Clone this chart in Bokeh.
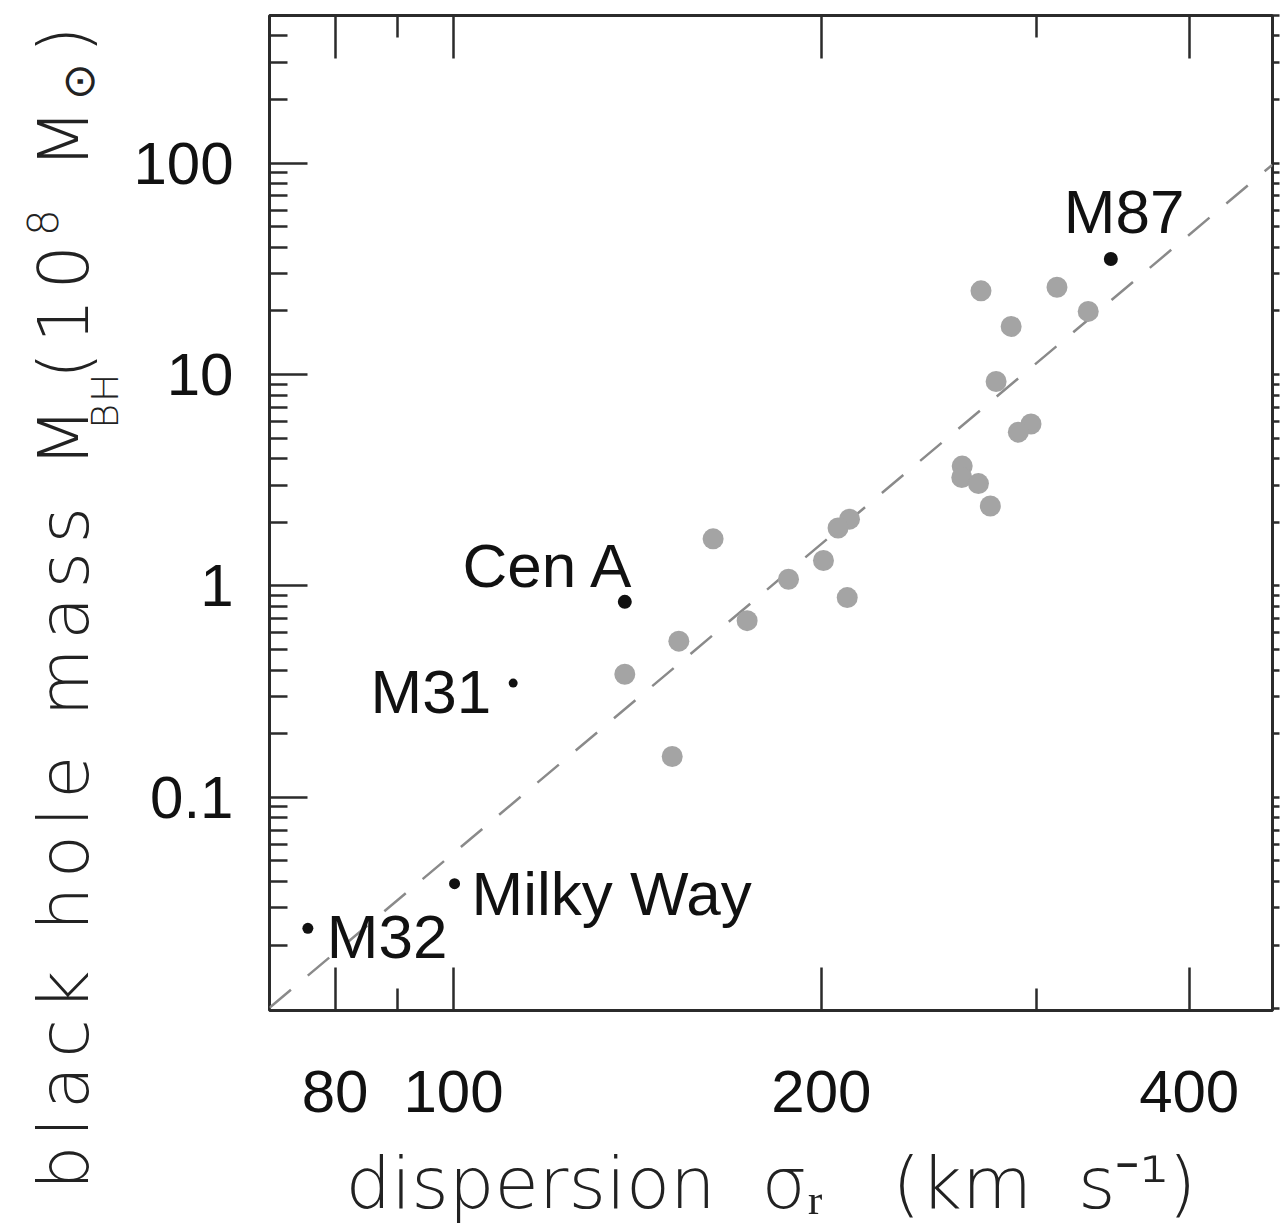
import numpy as np
from bokeh.plotting import figure
from bokeh.layouts import row
from bokeh.models import LogAxis, FixedTicker, Label, Range1d, ColumnDataSource, CustomJSTickFormatter, Div
from bokeh.embed import file_html
from bokeh.resources import INLINE

# ---------------- data ----------------
sample_sigma = [270.2, 311.8, 330.7, 286.0, 278.0, 296.9, 289.9, 260.8, 260.6, 268.9, 275.0,
                210.9, 206.4, 200.8, 210.0, 188.0, 173.9, 163.1, 152.9, 138.1, 151.0]
sample_mass = [24.9, 25.9, 19.9, 16.9, 9.27, 5.84, 5.34, 3.69, 3.26, 3.05, 2.39,
               2.07, 1.88, 1.32, 0.881, 1.075, 0.685, 1.67, 0.548, 0.382, 0.156]

named_galaxy = ["M87", "Cen A", "M31", "Milky Way", "M32"]
named_sigma = [345.1, 138.1, 111.9, 100.2, 76.0]
named_mass = [35.2, 0.841, 0.347, 0.039, 0.024]

fit_norm = 1.58      # M_BH at sigma = 200 km/s (1e8 Msun)
fit_slope = 4.86

x_tick_values = [80, 100, 200, 400]
x_minor_values = [90, 300]
y_tick_values = [0.1, 1, 10, 100]
y_minor_values = [m * 10.0 ** e for e in range(-2, 3) for m in range(2, 10)]

X_LO, X_HI = 70.7, 468.0
Y_LO, Y_HI = 0.0098, 500.0

INK = "#2b2b2b"
TICK_FONT = "Liberation Sans"
TITLE_FONT = "DejaVu Sans Light"
NB = "\u00a0"

PAGE_H = 1227
TITLE_W = 130

# ---------------- y-axis title (rotated HTML text with sub/superscripts) ----------------
ytitle_html = (
    f'<div style="position:relative; width:{TITLE_W}px; height:{PAGE_H}px; overflow:visible;">'
    '<div style="position:absolute; left:29px; top:1190px; transform-origin:0 0; '
    'transform:rotate(-90deg); white-space:nowrap; font-family:\'DejaVu Sans\'; '
    'font-weight:200; font-size:70px; line-height:70px; letter-spacing:8.5px; color:#222222;">'
    'black hole mass M'
    '<span style="font-size:38px; line-height:0; vertical-align:-30px; letter-spacing:2px; '
    'margin-left:-30px; margin-right:-8px;">BH</span>'
    '<span style="letter-spacing:9px;">(10'
    '<span style="font-size:42px; line-height:0; vertical-align:30px;">8</span>'
    '&nbsp;M<span style="font-size:44px; line-height:0; vertical-align:-6px;">⊙</span>)</span>'
    '</div></div>'
)
ytitle = Div(text=ytitle_html, width=TITLE_W, height=PAGE_H, margin=0)

# ---------------- main plot ----------------
p = figure(width=1288 - TITLE_W, height=PAGE_H, x_axis_type="log", y_axis_type="log",
           x_range=Range1d(X_LO, X_HI), y_range=Range1d(Y_LO, Y_HI),
           output_backend="svg", toolbar_location=None,
           min_border_left=268 - TITLE_W, min_border_right=16, min_border_top=15, min_border_bottom=209)
p.xgrid.visible = False
p.ygrid.visible = False
p.outline_line_color = INK
p.outline_line_width = 3
p.background_fill_color = "white"
p.border_fill_color = "white"

fmt = CustomJSTickFormatter(code="return String(tick);")
blank = CustomJSTickFormatter(code="return '';")

xb = p.xaxis[0]
xb.ticker = FixedTicker(ticks=x_tick_values, minor_ticks=x_minor_values)
xb.formatter = fmt
yl = p.yaxis[0]
yl.ticker = FixedTicker(ticks=y_tick_values, minor_ticks=y_minor_values)
yl.formatter = fmt

for ax in (xb, yl):
    ax.axis_line_color = None
    ax.major_tick_line_color = INK
    ax.minor_tick_line_color = INK
    ax.major_tick_line_width = 2.5
    ax.minor_tick_line_width = 2.5
    ax.major_tick_out = 0
    ax.minor_tick_out = 0
    ax.major_label_text_font = TICK_FONT
    ax.major_label_text_font_size = "60px"
    ax.major_label_text_color = "#111111"

xb.major_tick_in = 43
xb.minor_tick_in = 22
xb.major_label_standoff = 60
yl.major_tick_in = 38
yl.minor_tick_in = 18
yl.major_label_standoff = 36

xb.axis_label = f"dispersion{NB}{NB}σᵣ{NB}{NB}{NB}(km{NB}{NB}s⁻¹)"
xb.axis_label_text_font = TITLE_FONT
xb.axis_label_text_font_style = "normal"
xb.axis_label_text_font_size = "72px"
xb.axis_label_text_color = "#222222"
xb.axis_label_standoff = 26

top = LogAxis(ticker=FixedTicker(ticks=x_tick_values, minor_ticks=x_minor_values),
              formatter=blank, major_label_standoff=0,
              axis_line_color=None, major_tick_line_color=INK, minor_tick_line_color=INK,
              major_tick_line_width=2.5, minor_tick_line_width=2.5,
              major_tick_in=43, major_tick_out=0, minor_tick_in=22, minor_tick_out=0)
p.add_layout(top, "above")

right = LogAxis(ticker=FixedTicker(ticks=[0.01] + y_tick_values, minor_ticks=y_minor_values),
                formatter=blank, major_label_standoff=0,
                axis_line_color=None, major_tick_line_color=INK, minor_tick_line_color=INK,
                major_tick_line_width=2.5, minor_tick_line_width=2.5,
                major_tick_in=0, major_tick_out=7, minor_tick_in=0, minor_tick_out=7)
p.add_layout(right, "right")

# fit line
fit_x = np.array([X_LO, X_HI])
fit_y = fit_norm * (fit_x / 200.0) ** fit_slope
p.line(fit_x, fit_y, line_color="#8a8a8a", line_width=2.5, line_dash="28 22")

# sample galaxies
p.scatter(x=sample_sigma, y=sample_mass, size=21, fill_color="#a4a4a4", line_color=None)

# named galaxies
named_size = {"M87": 14, "Cen A": 14, "M31": 9, "Milky Way": 11, "M32": 11}
src = ColumnDataSource(dict(x=named_sigma, y=named_mass,
                            s=[named_size[n] for n in named_galaxy]))
p.scatter(x="x", y="y", size="s", source=src, fill_color="#111111", line_color=None)

label_style = {
    "M87": dict(text_align="left", x_offset=-47, y_offset=48),
    "Cen A": dict(text_align="right", x_offset=10, y_offset=36),
    "M31": dict(text_align="right", x_offset=-22, y_offset=-8),
    "Milky Way": dict(text_align="left", x_offset=17, y_offset=-10),
    "M32": dict(text_align="left", x_offset=19, y_offset=-8),
}
for n, sx, my in zip(named_galaxy, named_sigma, named_mass):
    p.add_layout(Label(x=sx, y=my, text=n, text_font=TICK_FONT, text_font_size="62px",
                       text_color="#111111", text_baseline="alphabetic", **label_style[n]))

layout = row(ytitle, p, spacing=0)
open("out.html", "w").write(file_html(layout, INLINE))
